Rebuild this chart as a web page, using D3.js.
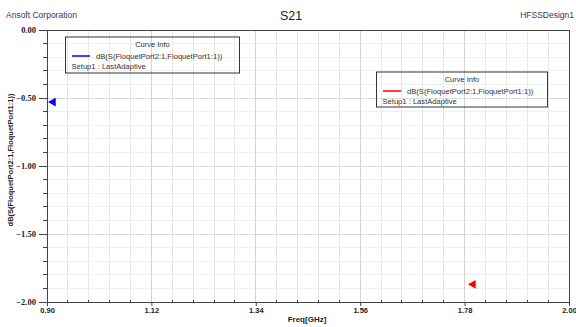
<!DOCTYPE html>
<html><head><meta charset="utf-8">
<script src="https://cdn.jsdelivr.net/npm/d3@7"></script>
<style>body{margin:0;background:#fff}svg{display:block}</style>
</head><body>
<svg id="c" width="576" height="327"></svg>
<script>
const xTicks = [0.90, 1.12, 1.34, 1.56, 1.78, 2.00];
const yTicks = [0.00, -0.50, -1.00, -1.50, -2.00];
const seriesNames = ["dB(S(FloquetPort2:1,FloquetPort1:1))", "dB(S(FloquetPort2:1,FloquetPort1:1))"];
const seriesSetup = ["Setup1 : LastAdaptive", "Setup1 : LastAdaptive"];
const seriesColors = ["#0000ff", "#ff0000"];
const seriesFreq = [0.913, 1.798];
const seriesDb = [-0.53, -1.87];

const svg = d3.select("#c");
const W = 576, H = 327;
const m = {l: 47, r: 7, t: 30, b: 25};
const x = d3.scaleLinear().domain([0.9, 2.0]).range([m.l, W - m.r]);
const y = d3.scaleLinear().domain([-2, 0]).range([H - m.b, m.t]);
const font = "Liberation Sans, Arial, sans-serif";

// minor grid
const xMinor = d3.range(0, 26).map(i => 0.9 + i * 0.044);
const yMinor = d3.range(0, 21).map(i => -2 + i * 0.1);
const g = svg.append("g");
g.selectAll(".vx").data(xMinor).join("line")
  .attr("x1", d => x(d)).attr("x2", d => x(d)).attr("y1", y(0)).attr("y2", y(-2))
  .attr("stroke", "#e6e6e6").attr("stroke-width", 1).attr("shape-rendering", "crispEdges");
g.selectAll(".hy").data(yMinor).join("line")
  .attr("y1", d => y(d)).attr("y2", d => y(d)).attr("x1", x(0.9)).attr("x2", x(2))
  .attr("stroke", "#f0f0f0").attr("stroke-width", 1).attr("shape-rendering", "crispEdges");
g.selectAll(".vmx").data(xTicks).join("line")
  .attr("x1", d => x(d)).attr("x2", d => x(d)).attr("y1", y(0)).attr("y2", y(-2))
  .attr("stroke", "#d2d2d2").attr("stroke-width", 1).attr("shape-rendering", "crispEdges");
g.selectAll(".hmy").data(yTicks).join("line")
  .attr("y1", d => y(d)).attr("y2", d => y(d)).attr("x1", x(0.9)).attr("x2", x(2))
  .attr("stroke", "#dcdcdc").attr("stroke-width", 1).attr("shape-rendering", "crispEdges");

// frame
svg.append("rect").attr("x", x(0.9)).attr("y", y(0)).attr("width", x(2) - x(0.9)).attr("height", y(-2) - y(0))
  .attr("fill", "none").attr("stroke", "#444").attr("stroke-width", 1).attr("shape-rendering", "crispEdges");

// x axis
const xa = svg.append("g").attr("transform", `translate(0,${y(-2)})`)
  .call(d3.axisBottom(x).tickValues(xTicks).tickFormat(d3.format(".2f")).tickSize(4).tickSizeOuter(0));
xa.select(".domain").attr("stroke", "#444");
xa.selectAll(".tick line").attr("stroke", "#444");
xa.selectAll("text").attr("font-family", font).attr("font-weight", "bold").attr("font-size", 7.5).attr("fill", "#222").attr("dy", "0.55em");
svg.append("g").selectAll("line").data(xMinor.filter((d, i) => i % 5 !== 0)).join("line")
  .attr("x1", d => x(d)).attr("x2", d => x(d)).attr("y1", y(-2)).attr("y2", y(-2) - 2.5)
  .attr("stroke", "#444").attr("shape-rendering", "crispEdges");

// y axis
const ya = svg.append("g").attr("transform", `translate(${x(0.9)},0)`)
  .call(d3.axisLeft(y).tickValues(yTicks).tickFormat(d3.format(".2f")).tickSize(8).tickSizeOuter(0).tickPadding(3));
ya.select(".domain").attr("stroke", "#444");
ya.selectAll(".tick line").attr("stroke", "#444");
ya.selectAll("text").attr("font-family", "Liberation Serif, Times New Roman, serif").attr("font-weight", "bold").attr("font-size", 8.5).attr("fill", "#222");
svg.append("g").selectAll("line").data(yMinor.filter((d, i) => i % 5 !== 0)).join("line")
  .attr("y1", d => y(d)).attr("y2", d => y(d)).attr("x1", x(0.9) - 4).attr("x2", x(0.9))
  .attr("stroke", "#444").attr("shape-rendering", "crispEdges");

// labels
svg.append("text").attr("x", 307).attr("y", 322).attr("text-anchor", "middle")
  .attr("font-family", font).attr("font-weight", "bold").attr("font-size", 8).attr("fill", "#222").text("Freq[GHz]");
svg.append("text").attr("transform", "translate(13,160) rotate(-90)").attr("text-anchor", "middle")
  .attr("font-family", font).attr("font-weight", "bold").attr("font-size", 7.5).attr("fill", "#222")
  .text("dB(S(FloquetPort2:1,FloquetPort1:1))");
svg.append("text").attr("x", 291).attr("y", 20).attr("text-anchor", "middle")
  .attr("font-family", font).attr("font-size", 12.5).attr("fill", "#222").text("S21");
svg.append("text").attr("x", 6).attr("y", 18)
  .attr("font-family", font).attr("font-size", 8.5).attr("fill", "#40305a").text("Ansoft Corporation");
svg.append("text").attr("x", 574).attr("y", 18).attr("text-anchor", "end")
  .attr("font-family", font).attr("font-size", 8.5).attr("fill", "#40305a").text("HFSSDesign1");

// markers
svg.append("g").selectAll("path").data(seriesFreq).join("path")
  .attr("d", d3.symbol(d3.symbolTriangle, 34))
  .attr("transform", (d, i) => `translate(${x(d)},${y(seriesDb[i])}) rotate(-90)`)
  .attr("fill", (d, i) => seriesColors[i]);

// legends
const legPos = [{x: 65.5, y: 37, w: 174, h: 36}, {x: 376.5, y: 72, w: 171, h: 35}];
seriesNames.forEach((name, i) => {
  const p = legPos[i];
  const lg = svg.append("g").attr("transform", `translate(${p.x},${p.y})`);
  lg.append("rect").attr("width", p.w).attr("height", p.h).attr("fill", "none")
    .attr("stroke", "#333").attr("stroke-width", 1);
  lg.append("text").attr("x", p.w / 2).attr("y", 10).attr("text-anchor", "middle")
    .attr("font-family", font).attr("font-size", 7.5).attr("fill", "#333").text("Curve Info");
  lg.append("line").attr("x1", 6.5).attr("x2", 24.5).attr("y1", 19).attr("y2", 19)
    .attr("stroke", seriesColors[i]).attr("stroke-width", 1.5);
  lg.append("text").attr("x", 30.5).attr("y", 21.5)
    .attr("font-family", font).attr("font-size", 7.6).attr("fill", "#333").text(name);
  lg.append("text").attr("x", 6).attr("y", 31.5)
    .attr("font-family", font).attr("font-size", 7.6).attr("fill", "#333").text(seriesSetup[i]);
});
</script>
</body></html>
